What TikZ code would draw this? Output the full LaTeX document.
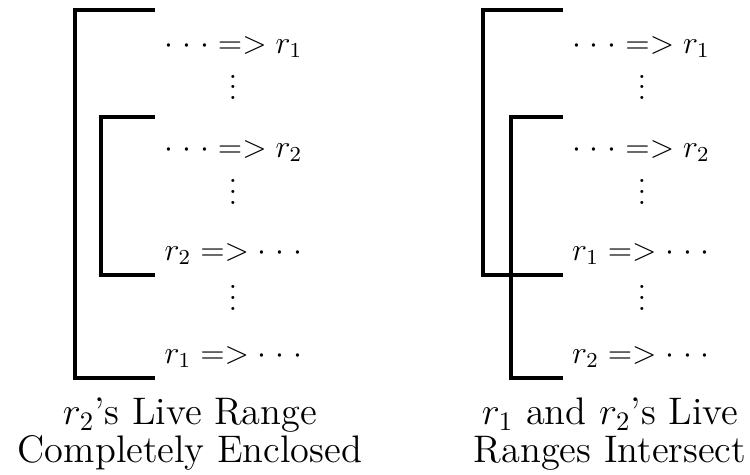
\documentclass[tikz,border=0pt]{standalone}
\newcommand{\mydots}{\mathinner{\cdotp\mkern2mu\cdotp\mkern2mu\cdotp}}
\newcommand{\myvdots}{\smash{\vdots}}
\begin{document}
\begin{tikzpicture}[x=0.375pt,y=-0.375pt,
  bracket/.style={line width=1.5pt,line join=miter},
  row/.style={anchor=base,inner sep=0pt,font=\fontsize{12pt}{14pt}\selectfont},
  caption/.style={anchor=base,inner sep=0pt,align=center,font=\fontsize{14.4pt}{13.9pt}\selectfont}]
\useasboundingbox (0,0) rectangle (750,474);
% left diagram
\node[row] (l1) at (233.5,53) {$\mydots => r_1$};
\node[row] (ld1) at (233,99.5) {$\myvdots$};
\node[row] (l2) at (233.5,157) {$\mydots => r_2$};
\node[row] (ld2) at (233,204) {$\myvdots$};
\node[row] (l3) at (233.5,260) {$r_2 => \mydots$};
\node[row] (ld3) at (233,310) {$\myvdots$};
\node[row] (l4) at (233.5,363) {$r_1 => \mydots$};
\coordinate (lo1) at (155,10);
\coordinate (lo2) at (155,378);
\coordinate (li1) at (155,117);
\coordinate (li2) at (155,275);
\draw[bracket] (lo1) -- (75,10) -- (75,378) -- (lo2);
\draw[bracket] (li1) -- (101,117) -- (101,275) -- (li2);
\node[caption] (lc) at (190,462) {$r_2$'s Live Range\\Completely Enclosed};
% right diagram
\node[row] (r1) at (641,53) {$\mydots => r_1$};
\node[row] (rd1) at (642,99.5) {$\myvdots$};
\node[row] (r2) at (641,157) {$\mydots => r_2$};
\node[row] (rd2) at (642,204) {$\myvdots$};
\node[row] (r3) at (641,260) {$r_1 => \mydots$};
\node[row] (rd3) at (642,310) {$\myvdots$};
\node[row] (r4) at (641,363) {$r_2 => \mydots$};
\coordinate (ro1) at (563,10);
\coordinate (ro2) at (563,275);
\coordinate (ri1) at (563,117);
\coordinate (ri2) at (563,378);
\draw[bracket] (ro1) -- (483,10) -- (483,275) -- (ro2);
\draw[bracket] (ri1) -- (511,117) -- (511,378) -- (ri2);
\node[caption] (rc) at (610,462) {$r_1$ and $r_2$'s Live\\Ranges Intersect};
\end{tikzpicture}
\end{document}
